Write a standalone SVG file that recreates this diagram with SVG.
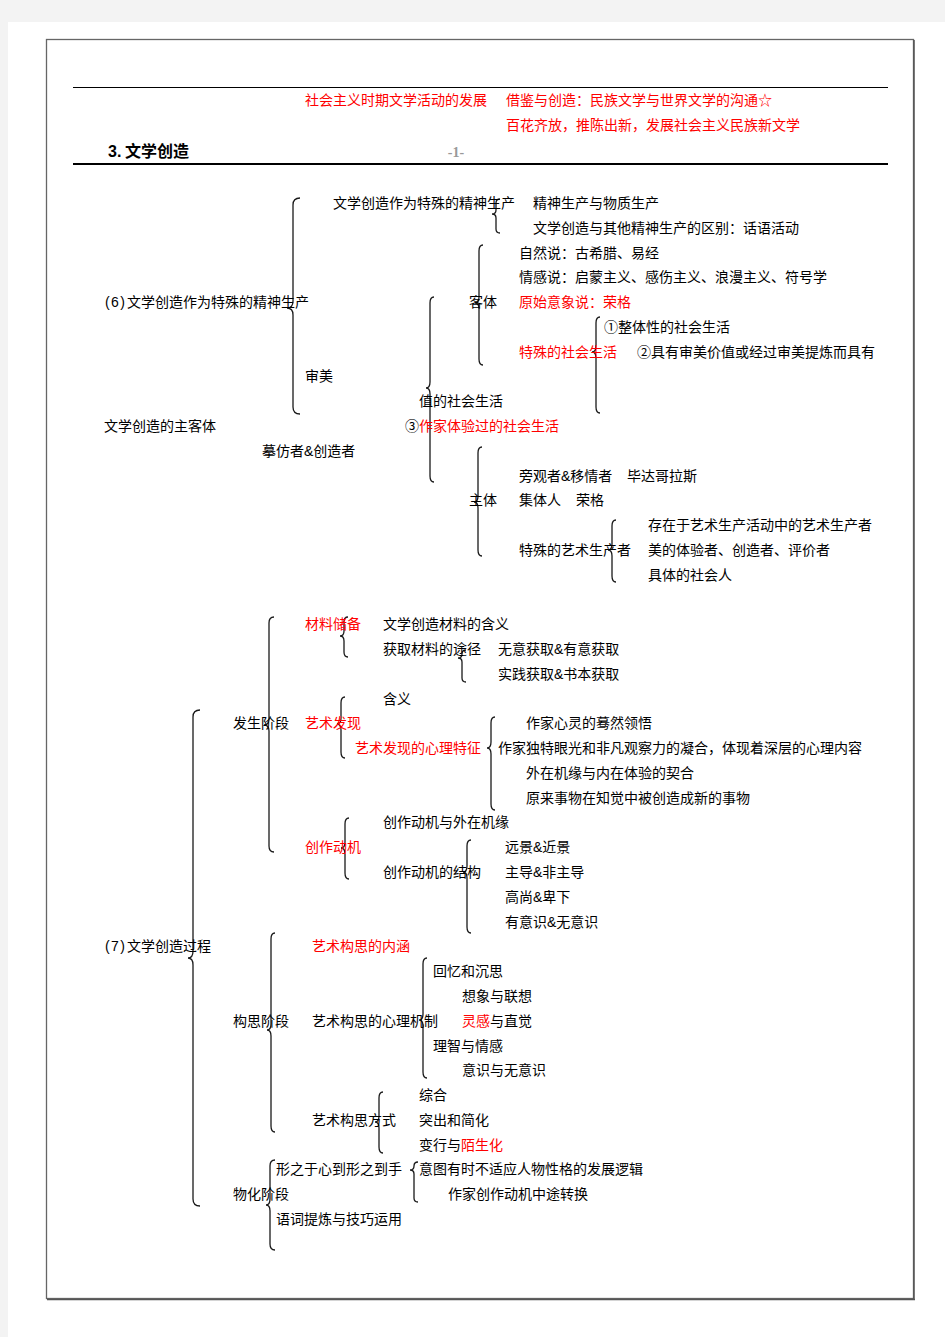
<svg xmlns="http://www.w3.org/2000/svg" width="945" height="1337" viewBox="0 0 945 1337">
<style>
text{font-family:"Liberation Sans","Noto Sans CJK SC",sans-serif;font-size:14px;fill:#000}
.r{fill:#ff0000}
.br{fill:none;stroke:#1a1a1a;stroke-width:1.3}
</style>
<rect x="0" y="0" width="945" height="1337" fill="#f3f3f3"/>
<rect x="8" y="22" width="937" height="1315" fill="#ffffff"/>
<rect x="46.5" y="39.5" width="867" height="1259" fill="none" stroke="#666" stroke-width="1.3"/>
<line x1="914" y1="40" x2="914" y2="1300" stroke="#555" stroke-width="1.5"/>
<line x1="47" y1="1299.5" x2="915" y2="1299.5" stroke="#555" stroke-width="1.5"/>
<line x1="73" y1="87.5" x2="888" y2="87.5" stroke="#000" stroke-width="1"/>
<line x1="73" y1="164" x2="888" y2="164" stroke="#000" stroke-width="2.2"/>

<g id="header">
<text class="r" x="305" y="105">社会主义时期文学活动的发展</text>
<text class="r" x="506" y="105">借鉴与创造：民族文学与世界文学的沟通☆</text>
<text class="r" x="506" y="130">百花齐放，推陈出新，发展社会主义民族新文学</text>
<text x="108" y="157" style="font-size:16px;font-weight:bold">3.</text>
<text x="125" y="157" style="font-size:16px;font-weight:bold">文学创造</text>
<text x="456" y="157" style="font-family:'Liberation Serif',serif;font-size:14px;fill:#999;font-weight:bold" text-anchor="middle">-1-</text>
</g>

<g id="connectors">
<path class="br" d="M300 198 Q293 198 293 205 L293 301 Q293 308 287 308 Q293 308 293 315 L293 407 Q293 414 300 414"/>
<path class="br" d="M500 199 Q496 199 496 203 L496 210 Q496 214 492 214 Q496 214 496 218 L496 229 Q496 233 500 233"/>
<path class="br" d="M483 245 Q479 245 479 251 L479 297 Q479 303 475 303 Q479 303 479 309 L479 359 Q479 365 483 365"/>
<path class="br" d="M434 297 Q430 297 430 303 L430 382 Q430 388 426 388 Q430 388 430 394 L430 476 Q430 482 434 482"/>
<path class="br" d="M600 317 Q596 317 596 323 L596 346 Q596 352 592 352 Q596 352 596 358 L596 407 Q596 413 600 413"/>
<path class="br" d="M482 447 Q478 447 478 453 L478 496 Q478 502 474 502 Q478 502 478 508 L478 550 Q478 556 482 556"/>
<path class="br" d="M616 520 Q612 520 612 526 L612 544 Q612 550 608 550 Q612 550 612 556 L612 576 Q612 582 616 582"/>
<path class="br" d="M274 617 Q269 617 269 623 L269 719 Q269 725 264 725 Q269 725 269 731 L269 846 Q269 852 274 852"/>
<path class="br" d="M348 617 Q344 617 344 622 L344 631 Q344 636 340 636 Q344 636 344 641 L344 652 Q344 657 348 657"/>
<path class="br" d="M466 650 Q462 650 462 654 Q462 658 458 658 Q462 658 462 662 L462 678 Q462 682 466 682"/>
<path class="br" d="M345 697 Q341 697 341 703 L341 718 Q341 724 337 724 Q341 724 341 730 L341 752 Q341 758 345 758"/>
<path class="br" d="M495 717 Q491 717 491 723 L491 742 Q491 748 487 748 Q491 748 491 754 L491 804 Q491 810 495 810"/>
<path class="br" d="M349 818 Q345 818 345 824 L345 842 Q345 848 341 848 Q345 848 345 854 L345 873 Q345 879 349 879"/>
<path class="br" d="M471 840 Q467 840 467 846 L467 866 Q467 872 463 872 Q467 872 467 878 L467 927 Q467 933 471 933"/>
<path class="br" d="M200 710 Q193 710 193 717 L193 951 Q193 958 188 958 Q193 958 193 965 L193 1199 Q193 1206 200 1206"/>
<path class="br" d="M275 933 Q271 933 271 939 L271 1024 Q271 1030 267 1030 Q271 1030 271 1036 L271 1126 Q271 1132 275 1132"/>
<path class="br" d="M427 958 Q423 958 423 964 L423 1014 Q423 1020 419 1020 Q423 1020 423 1026 L423 1072 Q423 1078 427 1078"/>
<path class="br" d="M383 1092 Q379 1092 379 1098 L379 1116 Q379 1122 375 1122 Q379 1122 379 1128 L379 1147 Q379 1153 383 1153"/>
<path class="br" d="M275 1160 Q270 1160 270 1166 L270 1199 Q270 1205 266 1205 Q270 1205 270 1211 L270 1244 Q270 1250 275 1250"/>
<path class="br" d="M418 1162 Q414 1162 414 1166 Q414 1170 410 1170 Q414 1170 414 1174 L414 1198 Q414 1202 418 1202"/>
</g>

<g id="n-zhuketi"><text x="104" y="431">文学创造的主客体</text></g>
<g id="n-6"><text x="105" y="307" textLength="20" lengthAdjust="spacing">(6)</text><text x="127" y="307">文学创造作为特殊的精神生产</text></g>
<g id="n-jingshen"><text x="333" y="208">文学创造作为特殊的精神生产</text></g>
<g id="n-jswz"><text x="533" y="208">精神生产与物质生产</text></g>
<g id="n-qubie"><text x="533" y="233">文学创造与其他精神生产的区别：话语活动</text></g>
<g id="n-shenmei"><text x="305" y="381">审美</text></g>
<g id="n-ziran"><text x="519" y="258">自然说：古希腊、易经</text></g>
<g id="n-qinggan"><text x="519" y="282">情感说：启蒙主义、感伤主义、浪漫主义、符号学</text></g>
<g id="n-keti"><text x="469" y="307">客体</text></g>
<g id="n-yuanshi"><text class="r" x="519" y="307">原始意象说：荣格</text></g>
<g id="n-zhengti"><text x="604" y="332">①整体性的社会生活</text></g>
<g id="n-teshu"><text class="r" x="519" y="357">特殊的社会生活</text></g>
<g id="n-juyou"><text x="637" y="357">②具有审美价值或经过审美提炼而具有</text></g>
<g id="n-zhide"><text x="419" y="406">值的社会生活</text></g>
<g id="n-zuojia"><text x="405" y="431">③</text><text class="r" x="419" y="431">作家体验过的社会生活</text></g>
<g id="n-mofang"><text x="262" y="456">摹仿者&amp;创造者</text></g>
<g id="n-pangguan"><text x="519" y="481">旁观者&amp;移情者</text><text x="627" y="481">毕达哥拉斯</text></g>
<g id="n-zhuti"><text x="469" y="505">主体</text></g>
<g id="n-jiti"><text x="519" y="505">集体人</text><text x="576" y="505">荣格</text></g>
<g id="n-cunzai"><text x="648" y="530">存在于艺术生产活动中的艺术生产者</text></g>
<g id="n-yishusc"><text x="519" y="555">特殊的艺术生产者</text></g>
<g id="n-mei"><text x="648" y="555">美的体验者、创造者、评价者</text></g>
<g id="n-juti"><text x="648" y="580">具体的社会人</text></g>

<g id="n-7"><text x="105" y="951" textLength="20" lengthAdjust="spacing">(7)</text><text x="127" y="951">文学创造过程</text></g>
<g id="n-fasheng"><text x="233" y="728">发生阶段</text></g>
<g id="n-cailiao"><text class="r" x="305" y="629">材料储备</text></g>
<g id="n-hanyi1"><text x="383" y="629">文学创造材料的含义</text></g>
<g id="n-tujing"><text x="383" y="654">获取材料的途径</text></g>
<g id="n-wuyi"><text x="498" y="654">无意获取&amp;有意获取</text></g>
<g id="n-shijian"><text x="498" y="679">实践获取&amp;书本获取</text></g>
<g id="n-hanyi2"><text x="383" y="704">含义</text></g>
<g id="n-faxian"><text class="r" x="305" y="728">艺术发现</text></g>
<g id="n-xinling"><text x="526" y="728">作家心灵的蓦然领悟</text></g>
<g id="n-xinli"><text class="r" x="355" y="753">艺术发现的心理特征</text></g>
<g id="n-duite"><text x="498" y="753">作家独特眼光和非凡观察力的凝合，体现着深层的心理内容</text></g>
<g id="n-qihe"><text x="526" y="778">外在机缘与内在体验的契合</text></g>
<g id="n-yuanlai"><text x="526" y="803">原来事物在知觉中被创造成新的事物</text></g>
<g id="n-jiyuan"><text x="383" y="827">创作动机与外在机缘</text></g>
<g id="n-dongji"><text class="r" x="305" y="852">创作动机</text></g>
<g id="n-jiegou"><text x="383" y="877">创作动机的结构</text></g>
<g id="n-yuanjing"><text x="505" y="852">远景&amp;近景</text></g>
<g id="n-zhudao"><text x="505" y="877">主导&amp;非主导</text></g>
<g id="n-gaoshang"><text x="505" y="902">高尚&amp;卑下</text></g>
<g id="n-youyishi"><text x="505" y="927">有意识&amp;无意识</text></g>
<g id="n-gousi"><text x="233" y="1026">构思阶段</text></g>
<g id="n-neihan"><text class="r" x="312" y="951">艺术构思的内涵</text></g>
<g id="n-jizhi"><text x="312" y="1026">艺术构思的心理机制</text></g>
<g id="n-huiyi"><text x="433" y="976">回忆和沉思</text></g>
<g id="n-xiangxiang"><text x="462" y="1001">想象与联想</text></g>
<g id="n-linggan"><text x="462" y="1026"><tspan class="r">灵感</tspan>与直觉</text></g>
<g id="n-lizhi"><text x="433" y="1051">理智与情感</text></g>
<g id="n-yishi"><text x="462" y="1075">意识与无意识</text></g>
<g id="n-fangshi"><text x="312" y="1125">艺术构思方式</text></g>
<g id="n-zonghe"><text x="419" y="1100">综合</text></g>
<g id="n-tuchu"><text x="419" y="1125">突出和简化</text></g>
<g id="n-bianxing"><text x="419" y="1150">变行与<tspan class="r">陌生化</tspan></text></g>
<g id="n-wuhua"><text x="233" y="1199">物化阶段</text></g>
<g id="n-xingzhi"><text x="276" y="1174">形之于心到形之到手</text></g>
<g id="n-yitu"><text x="419" y="1174">意图有时不适应人物性格的发展逻辑</text></g>
<g id="n-zhuanhuan"><text x="448" y="1199">作家创作动机中途转换</text></g>
<g id="n-yuci"><text x="276" y="1224">语词提炼与技巧运用</text></g>
</svg>
